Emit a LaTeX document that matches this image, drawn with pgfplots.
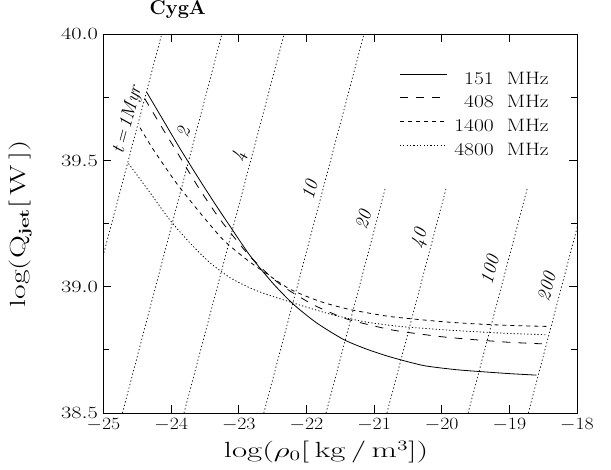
\documentclass[border=0pt]{standalone}
\usepackage{graphicx}
\usepackage{pgfplots}
\pgfplotsset{compat=1.18}

% wide lettering, closer to the plotting-package font of the original
\newcommand{\wide}[2][1.2]{\scalebox{#1}[1]{#2}}

\begin{document}
\begin{tikzpicture}[
    iso/.style={black, line width=0.7bp, dash pattern=on 1.3bp off 2.3bp},
    lab/.style={font=\fontsize{19}{19}\selectfont\itshape, rotate=75},
    crv/.style={black, line width=0.8bp, smooth, tension=0.4},
]
\path[use as bounding box] (-103.5bp,-57bp) rectangle (507.5bp,413bp);
\begin{axis}[
    at={(0,0)}, anchor=south west,
    scale only axis, width=473.5bp, height=378.7bp,
    xmin=-25, xmax=-18, ymin=38.5, ymax=40,
    xtick={-25,-24,...,-18},
    ytick={38.5,39,39.5,40},
    minor ytick={38.75,39.25,39.75},
    tick align=inside,
    major tick length=8bp, minor tick length=6bp,
    axis line style={line width=0.9bp},
    every tick/.style={black, line width=0.8bp},
    xticklabel={\wide[1.15]{$\pgfmathprintnumber{\tick}$}},
    yticklabel={\wide[1.3]{$\pgfmathprintnumber[fixed,fixed zerofill,precision=1]{\tick}$}},
    tick label style={font=\fontsize{18}{18}\selectfont},
    xticklabel style={yshift=-2bp},
    yticklabel style={xshift=-2bp},
    xlabel={\wide[1.5]{log($\rho_0$[\,kg\,/\,m$^3$])}},
    ylabel={\wide[1.45]{log(Q$_{\mathbf{jet}}$[\,W\,])}},
    label style={font=\fontsize{22}{22}\selectfont},
    xlabel style={at={(axis description cs:0.47,-0.103)}, anchor=center},
    ylabel style={at={(axis description cs:-0.175,0.5)}, anchor=center},
    title={CygA},
    title style={at={(axis description cs:0.157,1)}, anchor=base, yshift=13.5bp,
        inner sep=0pt, font=\fontsize{20}{20}\selectfont\bfseries},
    legend style={draw=none, fill=none, at={(axis description cs:0.947,0.906)},
        anchor=north east, font=\fontsize{18}{18}\selectfont,
        nodes={inner sep=0pt, text height=12bp, text depth=0bp},
        row sep=11.7bp, column sep=7bp},
    legend cell align=right,
    legend image code/.code={\draw[#1] (0bp,4bp) -- (47bp,4bp);},
]

% isochrones t = 1, 2, 4, 10, 20, 40, 100, 200 Myr
\addplot[iso, forget plot] coordinates {(-25.62,38.5) (-24.14,40)};
\addplot[iso, forget plot] coordinates {(-24.72,38.5) (-23.25,40)};
\addplot[iso, forget plot] coordinates {(-23.81,38.5) (-22.33,40)};
\addplot[iso, forget plot] coordinates {(-22.63,38.5) (-21.15,40)};
\addplot[iso, forget plot] coordinates {(-21.71,38.5) (-20.83,39.395)};
\addplot[iso, forget plot] coordinates {(-20.81,38.5) (-19.93,39.395)};
\addplot[iso, forget plot] coordinates {(-19.61,38.5) (-18.73,39.395)};
\addplot[iso, forget plot] coordinates {(-18.72,38.5) (-17.84,39.395)};

% 151 MHz
\addplot[crv] coordinates {
    (-24.36,39.770) (-24.10,39.652) (-23.87,39.548) (-23.60,39.432)
    (-23.35,39.328) (-23.13,39.240) (-22.83,39.122) (-22.49,39.012)
    (-22.19,38.930) (-21.85,38.857) (-21.45,38.791) (-21.11,38.753)
    (-20.76,38.722) (-20.27,38.688) (-19.80,38.672) (-19.48,38.665)
    (-19.00,38.656) (-18.60,38.650)
};
\addlegendentry{\wide[1.2]{151\ \ MHz}}

% 408 MHz
\addplot[crv, dash pattern=on 8bp off 8bp] coordinates {
    (-24.39,39.745) (-24.10,39.615) (-23.94,39.545) (-23.60,39.395)
    (-23.28,39.268) (-22.93,39.150) (-22.79,39.108) (-22.56,39.048)
    (-22.34,39.000) (-22.09,38.958) (-21.85,38.922) (-21.40,38.872)
    (-20.81,38.833) (-20.52,38.820) (-20.00,38.802) (-19.50,38.790)
    (-19.00,38.780) (-18.52,38.774)
};
\addlegendentry{\wide[1.2]{408\ \ MHz}}

% 1400 MHz
\addplot[crv, dash pattern=on 4bp off 4bp] coordinates {
    (-24.46,39.630) (-24.26,39.542) (-23.92,39.410) (-23.57,39.292)
    (-23.23,39.186) (-22.88,39.107) (-22.59,39.052) (-22.24,38.990)
    (-21.80,38.942) (-21.36,38.910) (-20.76,38.882) (-20.00,38.862)
    (-19.50,38.853) (-19.00,38.847) (-18.45,38.843)
};
\addlegendentry{\wide[1.2]{1400\ \ MHz}}

% 4800 MHz
\addplot[crv, dash pattern=on 1.2bp off 2.2bp] coordinates {
    (-24.63,39.488) (-24.31,39.372) (-24.02,39.265) (-23.72,39.173)
    (-23.43,39.096) (-23.13,39.036) (-22.83,38.995) (-22.59,38.970)
    (-22.09,38.927) (-21.60,38.888) (-21.11,38.860) (-20.62,38.843)
    (-20.00,38.830) (-19.50,38.822) (-19.00,38.815) (-18.45,38.810)
};
\addlegendentry{\wide[1.2]{4800\ \ MHz}}

\node[lab] at (axis cs:-24.64,39.66) {t\,=\,1Myr};
\node[lab] at (axis cs:-23.82,39.61) {2};
\node[lab] at (axis cs:-22.99,39.516) {4};
\node[lab] at (axis cs:-21.95,39.384) {10};
\node[lab] at (axis cs:-21.16,39.265) {20};
\node[lab] at (axis cs:-20.32,39.19) {40};
\node[lab] at (axis cs:-19.29,39.067) {100};
\node[lab] at (axis cs:-18.45,39.0) {200};
\end{axis}
\end{tikzpicture}
\end{document}
